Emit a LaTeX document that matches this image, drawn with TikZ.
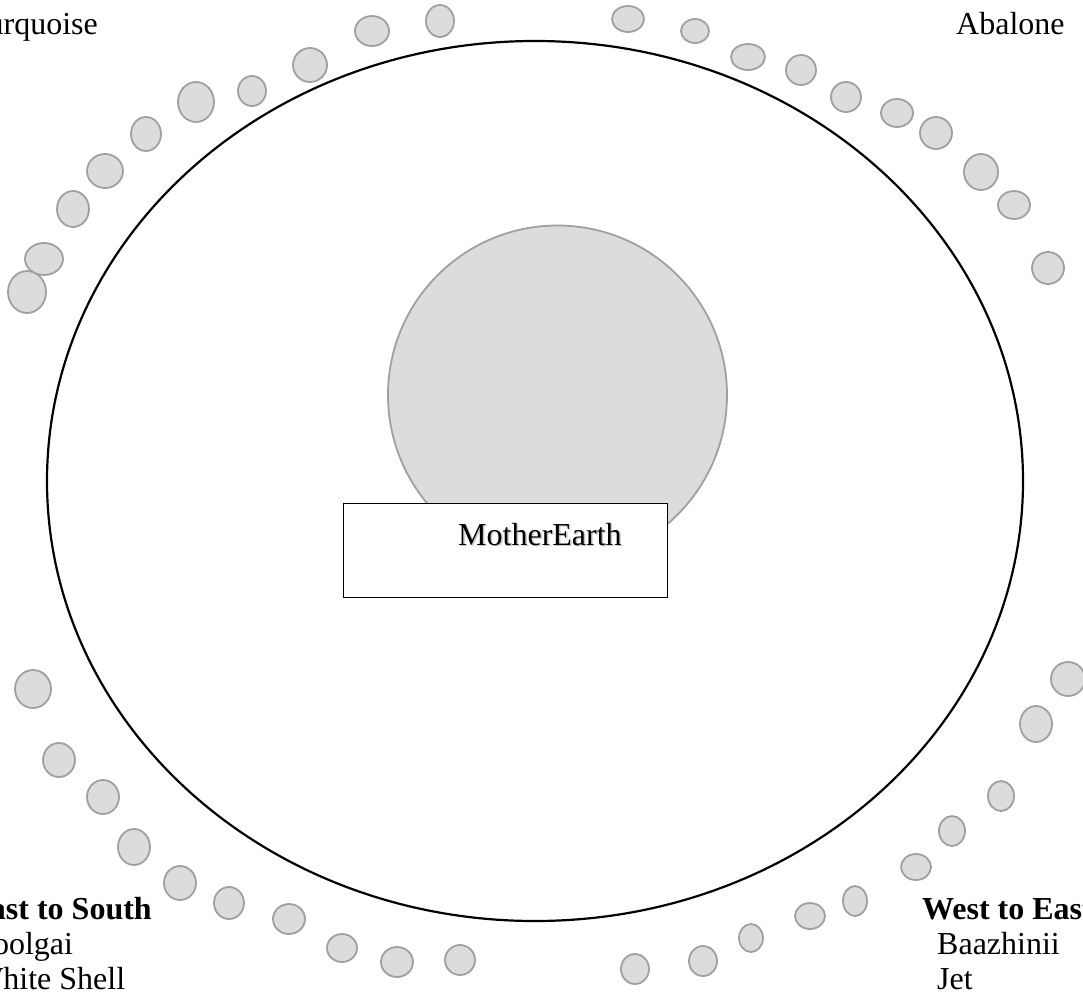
\documentclass[tikz,border=0pt]{standalone}
\usepackage{fontspec}
\setmainfont{Liberation Serif}
\definecolor{beadfill}{HTML}{DCDCDC}
\definecolor{beadline}{HTML}{A0A0A0}
\begin{document}
\begin{tikzpicture}[x=1pt,y=-1pt,
  bead/.style={fill=beadfill, draw=beadline, line width=1.8pt},
  lbl/.style={inner sep=0pt, anchor=base west, font=\fontsize{32}{37}\selectfont},
  head/.style={lbl, font=\fontsize{32}{37}\selectfont\bfseries}]
\useasboundingbox (0,0) rectangle (1083,991);
% outer ring
\draw[line width=2.2pt] (535,481) ellipse [x radius=488pt, y radius=440pt];
% earth
\draw[bead] (557.5,395) circle [radius=169.5pt];
\node[draw, line width=1.3pt, fill=white, minimum width=324pt, minimum height=94pt,
      inner sep=0pt, anchor=north west] (box) at (343,503) {};
\node[lbl, text=black!22] (meshadow) at (459.5,546.5) {MotherEarth};
\node[lbl] (me) at (458,545) {MotherEarth};
% beads
\foreach \x/\y/\rx/\ry in {
  27/292/19/21, 44/259/19/16, 73/209/16/18, 105/171/18/17, 146/134/15/17,
  196/102/18/20, 252/91/14/15, 310/65/17/17, 372/31/17/15, 440/21/14/16,
  628/19/16/13, 695/31/14/12, 748/57/17/13, 801/70/15/15, 846/97/15/15,
  897/113/16/14, 936/133/16/16, 981/172/17/18, 1014/205/16/14, 1048/268/16/16,
  33/689/18/19, 59/760/16/17, 103/797/16/17, 134/847/16/18, 180/883/16/17,
  229/903/15/16, 289/919/16/15, 342/948/15/14, 397/962/16/15, 460/960/15/15,
  635/969/14/15, 703/961/14/15, 751/938/12/14, 810/916/15/13, 855/901/12/15,
  916/867/15/13, 952/831/13/15, 1001/796/13/15, 1036/724/16/18, 1068/679/17/17}
  \draw[bead] (\x,\y) ellipse [x radius=\rx pt, y radius=\ry pt];
% labels
\node[lbl, anchor=base east] (turq) at (98,34) {Turquoise};
\node[lbl] (abal) at (956,34) {Abalone};
\node[head, anchor=base east] (es) at (152,919) {East to South};
\node[lbl] (yool) at (-27,954) {Yoolgai};
\node[lbl] (white) at (-27,989) {White Shell};
\node[head] (we) at (922,919) {West to East};
\node[lbl] (baaz) at (937,954) {Baazhinii};
\node[lbl] (jet) at (937,989) {Jet};
\end{tikzpicture}
\end{document}
